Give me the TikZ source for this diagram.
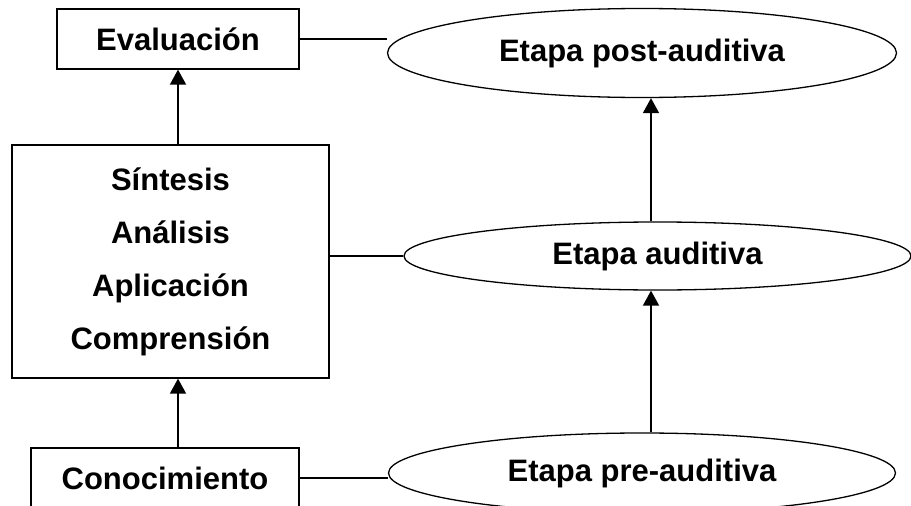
\documentclass[tikz,border=0pt]{standalone}
\usepackage{fontspec}
\setmainfont{Liberation Sans}
\usetikzlibrary{shapes.geometric,arrows.meta}

\tikzset{
  caja/.style={draw,line width=1.3pt,inner sep=0pt,font=\bfseries\fontsize{31}{37}\selectfont},
  etapa/.style={draw,ellipse,line width=1.3pt,inner sep=0pt,font=\bfseries\fontsize{31}{37}\selectfont},
  flecha/.style={line width=1.8pt,-{Triangle[width=16pt,length=15pt]}},
  enlace/.style={line width=1.3pt}
}

\begin{document}
\begin{tikzpicture}[x=1pt,y=-1pt]
    \useasboundingbox (0,0) rectangle (911,506);
    \clip (0,0) rectangle (911,506);
    % niveles
    \node[caja,minimum width=242pt,minimum height=60pt] (eval) at (178,39) {Evaluación};
    \node[caja,minimum width=317pt,minimum height=233pt,align=center,
          font=\bfseries\fontsize{31}{53}\selectfont] (nivel) at (170.5,261.5)
          {Síntesis\\Análisis\\Aplicación\\Comprensión};
    \node[caja,minimum width=268pt,minimum height=60pt] (conoc) at (165,478) {Conocimiento};
    % etapas
    \node[etapa,minimum width=509pt,minimum height=89pt] (post) at (642,53) {Etapa post-auditiva};
    \node[etapa,minimum width=507pt,minimum height=68pt] (aud) at (657.5,256) {Etapa auditiva};
    \node[etapa,minimum width=507pt,minimum height=80pt] (pre) at (642,473) {Etapa pre-auditiva};
    \coordinate (eje) at (651,0);
    % flechas
    \draw[flecha] (nivel.north -| eval) -- (eval.south);
    \draw[flecha] (conoc.north -| eval) -- (nivel.south -| eval);
    \draw[flecha] (aud.north -| eje) -- (post.south -| eje);
    \draw[flecha] (pre.north -| eje) -- (aud.south -| eje);
    % enlaces
    \draw[enlace] (eval.east) -- (eval.east -| post.west);
    \draw[enlace] (aud.west) -- (aud.west -| nivel.east);
    \draw[enlace] (conoc.east) -- (conoc.east -| pre.west);
\end{tikzpicture}
\end{document}
